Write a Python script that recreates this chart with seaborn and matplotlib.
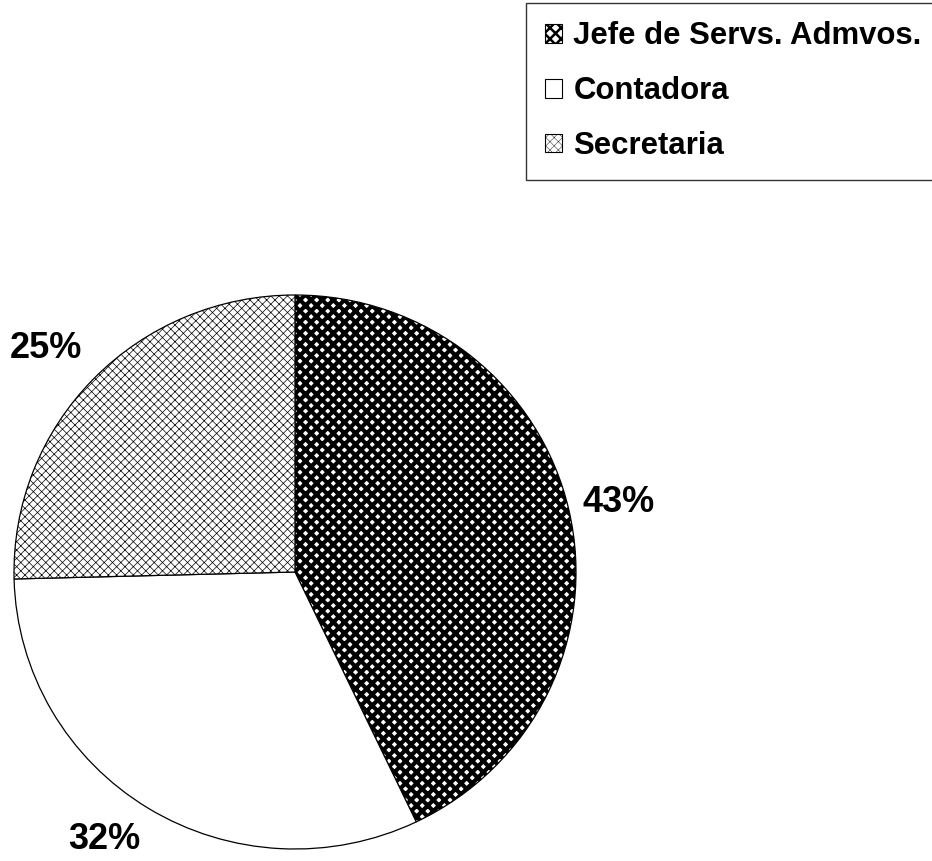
import numpy as np
import seaborn as sns
import matplotlib.pyplot as plt
from matplotlib.patches import Patch

sns.set_theme(style="white")
plt.rcParams['font.family'] = ['Liberation Sans', 'DejaVu Sans']

labels = ["Jefe de Servs. Admvos.", "Contadora", "Secretaria"]
values = [42.9, 31.7, 25.4]
hatches = ["xxx", "", "xxxx"]
hatch_lw = [3.0, 0.5, 0.5]
# label distance from centre and small angular shift (degrees)
label_dist = [1.18, 1.18, 1.2]
label_shift = [-0.5, -3.6, 2.0]

fig = plt.figure(figsize=(9.32, 8.61), dpi=100)
ax = fig.add_axes([14 / 932, 12 / 861, 562 / 932, 554 / 861])

wedges, texts = ax.pie(
    values, startangle=90, counterclock=False, radius=1,
    colors=["white"] * 3,
    wedgeprops=dict(edgecolor="black", linewidth=0.9))

for w, h, lw in zip(wedges, hatches, hatch_lw):
    w.set_hatch(h)
    try:
        w.set_hatch_linewidth(lw)
    except AttributeError:
        pass

for w, v, d, s in zip(wedges, values, label_dist, label_shift):
    ang = np.deg2rad((w.theta1 + w.theta2) / 2 + s)
    ax.text(d * np.cos(ang), d * np.sin(ang), f"{v:.0f}%", ha="center", va="center",
            fontsize=26, fontweight="bold", color="black", clip_on=False)

ax.set_aspect("auto")
ax.set_xlim(-1, 1)
ax.set_ylim(-1, 1)
ax.axis("off")

handles = [Patch(facecolor="white", edgecolor="black", hatch=h, linewidth=0.8)
           for h in hatches]

leg = fig.legend(handles, labels, loc="upper right", bbox_to_anchor=(1.009, 0.997),
                 prop=dict(size=22.4, weight="bold"), labelcolor="black",
                 frameon=True, fancybox=False,
                 handlelength=0.55, handleheight=0.55, handletextpad=0.38,
                 labelspacing=0.8, borderpad=0.6, borderaxespad=0.0)
leg.get_frame().set_edgecolor("black")
leg.get_frame().set_linewidth(1.0)
for p, lw in zip(leg.legend_handles, hatch_lw):
    try:
        p.set_hatch_linewidth(lw * 0.6)
    except AttributeError:
        pass

fig.savefig("out.png", dpi=100, facecolor="white")
